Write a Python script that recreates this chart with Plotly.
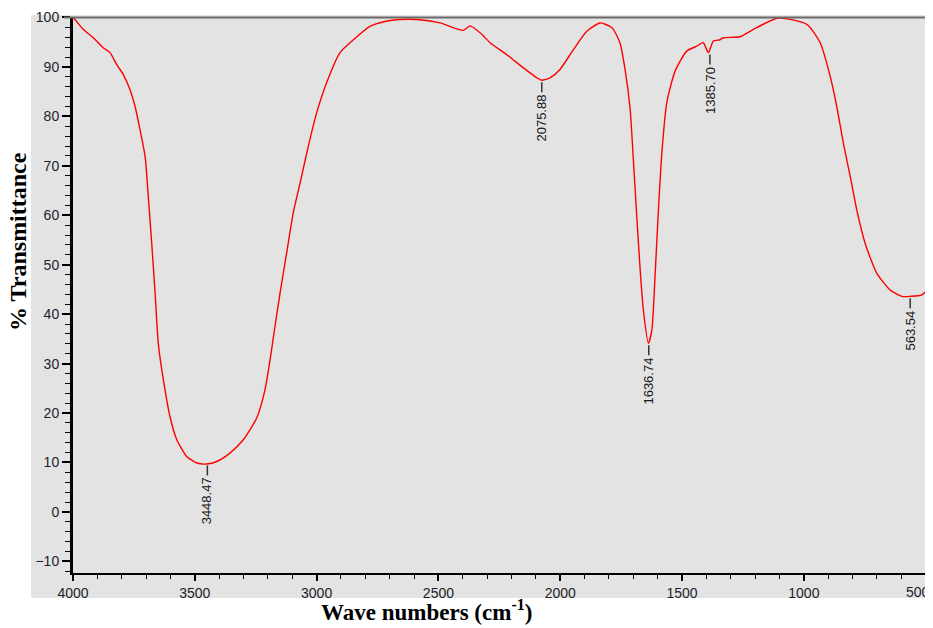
import plotly.graph_objects as go

# FTIR spectrum
wavenumber = [4000, 3992, 3958, 3917, 3876, 3848, 3821, 3794, 3766, 3745, 3725, 3704, 3691, 3677,
              3663, 3650, 3629, 3602, 3574, 3533, 3492, 3451, 3410, 3356, 3301, 3246, 3212, 3191,
              3171, 3150, 3123, 3096, 3068, 3034, 3000, 2959, 2904, 2849, 2781, 2720, 2658, 2589,
              2493, 2398, 2370, 2329, 2288, 2220, 2151, 2096, 2076, 2042, 2001, 1946, 1891, 1837,
              1796, 1782, 1755, 1734, 1713, 1700, 1686, 1672, 1659, 1638, 1624, 1611, 1597, 1583,
              1563, 1529, 1481, 1440, 1413, 1392, 1372, 1344, 1331, 1262, 1207, 1105, 988, 933,
              892, 865, 838, 810, 783, 749, 701, 646, 598, 564, 516, 470]
transmittance = [100.0, 99.6, 97.6, 95.9, 93.9, 92.9, 90.5, 88.5, 85.4, 82.0, 77.3, 71.9, 63.8, 54.4,
                 44.3, 34.1, 26.7, 19.3, 14.6, 11.2, 9.9, 9.7, 10.2, 11.9, 14.6, 19.0, 24.7, 30.8,
                 37.5, 44.3, 52.4, 60.5, 66.5, 74.0, 80.7, 86.8, 92.9, 95.5, 98.2, 99.2, 99.6, 99.6,
                 98.9, 97.4, 98.3, 96.9, 94.9, 92.5, 89.8, 87.8, 87.3, 87.8, 89.5, 93.5, 97.2, 98.9,
                 98.2, 97.6, 94.9, 89.5, 81.4, 71.3, 59.8, 49.0, 40.9, 34.1, 36.8, 47.6, 61.1, 72.6,
                 82.7, 89.1, 93.2, 94.2, 94.9, 92.9, 95.2, 95.5, 95.9, 96.1, 97.6, 99.9, 98.6, 94.9,
                 88.1, 82.0, 74.6, 67.9, 61.1, 54.4, 48.3, 44.9, 43.6, 43.6, 43.9, 46.3]

peak_wn = [3448.47, 2075.88, 1636.74, 1385.70, 563.54]
peak_t = [9.8, 87.3, 34.1, 92.9, 43.6]
peak_labels = ["3448.47", "2075.88", "1636.74", "1385.70", "563.54"]

x_tickvals = [4000, 3500, 3000, 2500, 2000, 1500, 1000, 500]
x_ticktext = ["4000", "3500", "3000", "2500", "2000", "1500", "1000", "500"]

x_title = "Wave numbers (cm<sup>-1</sup>)"
y_title = "% Transmittance"

GREY = "#e3e3e3"
OFF = 8  # the page body offsets the figure by 8 px
W, H = 933 - OFF, 628 - OFF
ML, MR, MT, MB = 73 - OFF, 0, 17 - OFF, 628 - 573
PW = W - ML - MR
PH = H - MT - MB

def px_x(p):
    # screen pixel -> paper fraction
    return (p - OFF - ML) / PW

def px_y(p):
    return (H - MB - (p - OFF)) / PH

fig = go.Figure()
fig.add_trace(go.Scatter(x=wavenumber, y=transmittance, mode="lines",
                         line=dict(color="#ff0000", width=1.4, shape="spline", smoothing=0.6),
                         hoverinfo="skip"))

fig.update_layout(
    width=W, height=H,
    margin=dict(l=ML, r=MR, t=MT, b=MB, autoexpand=False),
    paper_bgcolor="white", plot_bgcolor=GREY,
    showlegend=False,
)

tickfont = dict(family="Liberation Sans, Arial", size=14, color="#1e1e2a")

# last label (at the clipped right edge) is drawn as an annotation so it stays whole
shown_text = x_ticktext[:-1] + [""]

fig.update_xaxes(
    range=[4000, 470], autorange=False, automargin=False,
    tickmode="array", tickvals=x_tickvals, ticktext=shown_text,
    ticks="outside", ticklen=6, tickwidth=1.5, tickcolor="black",
    showline=True, linecolor="black", linewidth=2,
    showgrid=False, zeroline=False,
    minor=dict(tickmode="linear", tick0=0, dtick=100, ticks="outside", ticklen=4,
               tickwidth=1, tickcolor="black", showgrid=False),
    tickfont=tickfont,
)
fig.update_yaxes(
    range=[-12.35, 100.1], autorange=False, automargin=False,
    tickmode="linear", tick0=0, dtick=10,
    ticks="outside", ticklen=8, tickwidth=1.5, tickcolor="black",
    showline=True, linecolor="black", linewidth=3,
    showgrid=False, zeroline=False,
    minor=dict(dtick=2, ticks="outside", ticklen=5, tickwidth=1, tickcolor="black", showgrid=False),
    tickfont=tickfont,
)

shapes = [
    dict(type="rect", xref="paper", yref="paper", x0=px_x(31), x1=1.0,
         y0=px_y(598), y1=px_y(15), fillcolor=GREY, line=dict(width=0), layer="below"),
    dict(type="line", xref="paper", yref="paper", x0=px_x(64), x1=1.0,
         y0=px_y(17.5), y1=px_y(17.5), line=dict(color="#6a6a6a", width=2)),
]
annotations = []
for wn, t, lab in zip(peak_wn, peak_t, peak_labels):
    shapes.append(dict(type="line", xref="x", yref="y", x0=wn, x1=wn,
                       ysizemode="pixel", yanchor=t, y0=-2, y1=-12,
                       line=dict(color="#333333", width=1.5)))
    annotations.append(dict(x=wn, y=t, xref="x", yref="y", text=lab, showarrow=False,
                            textangle=-90, xanchor="center", yanchor="top", yshift=-12,
                            font=dict(family="Liberation Sans, Arial", size=13, color="#151515")))

annotations.append(dict(x=1.0, y=px_y(592), xref="paper", yref="paper",
                        text=x_ticktext[-1], showarrow=False,
                        xanchor="right", yanchor="middle", xshift=-1,
                        font=tickfont))

annotations.append(dict(x=px_x(18), y=px_y(242), xref="paper", yref="paper",
                        text="<b>" + y_title + "</b>", showarrow=False, textangle=-90,
                        xanchor="center", yanchor="middle",
                        font=dict(family="Liberation Serif, Times New Roman", size=24, color="black")))
annotations.append(dict(x=px_x(426), y=px_y(610), xref="paper", yref="paper",
                        text="<b>" + x_title + "</b>", showarrow=False,
                        xanchor="center", yanchor="middle",
                        font=dict(family="Liberation Serif, Times New Roman", size=23, color="black")))

fig.update_layout(shapes=shapes, annotations=annotations)
fig.write_html("out.html")
